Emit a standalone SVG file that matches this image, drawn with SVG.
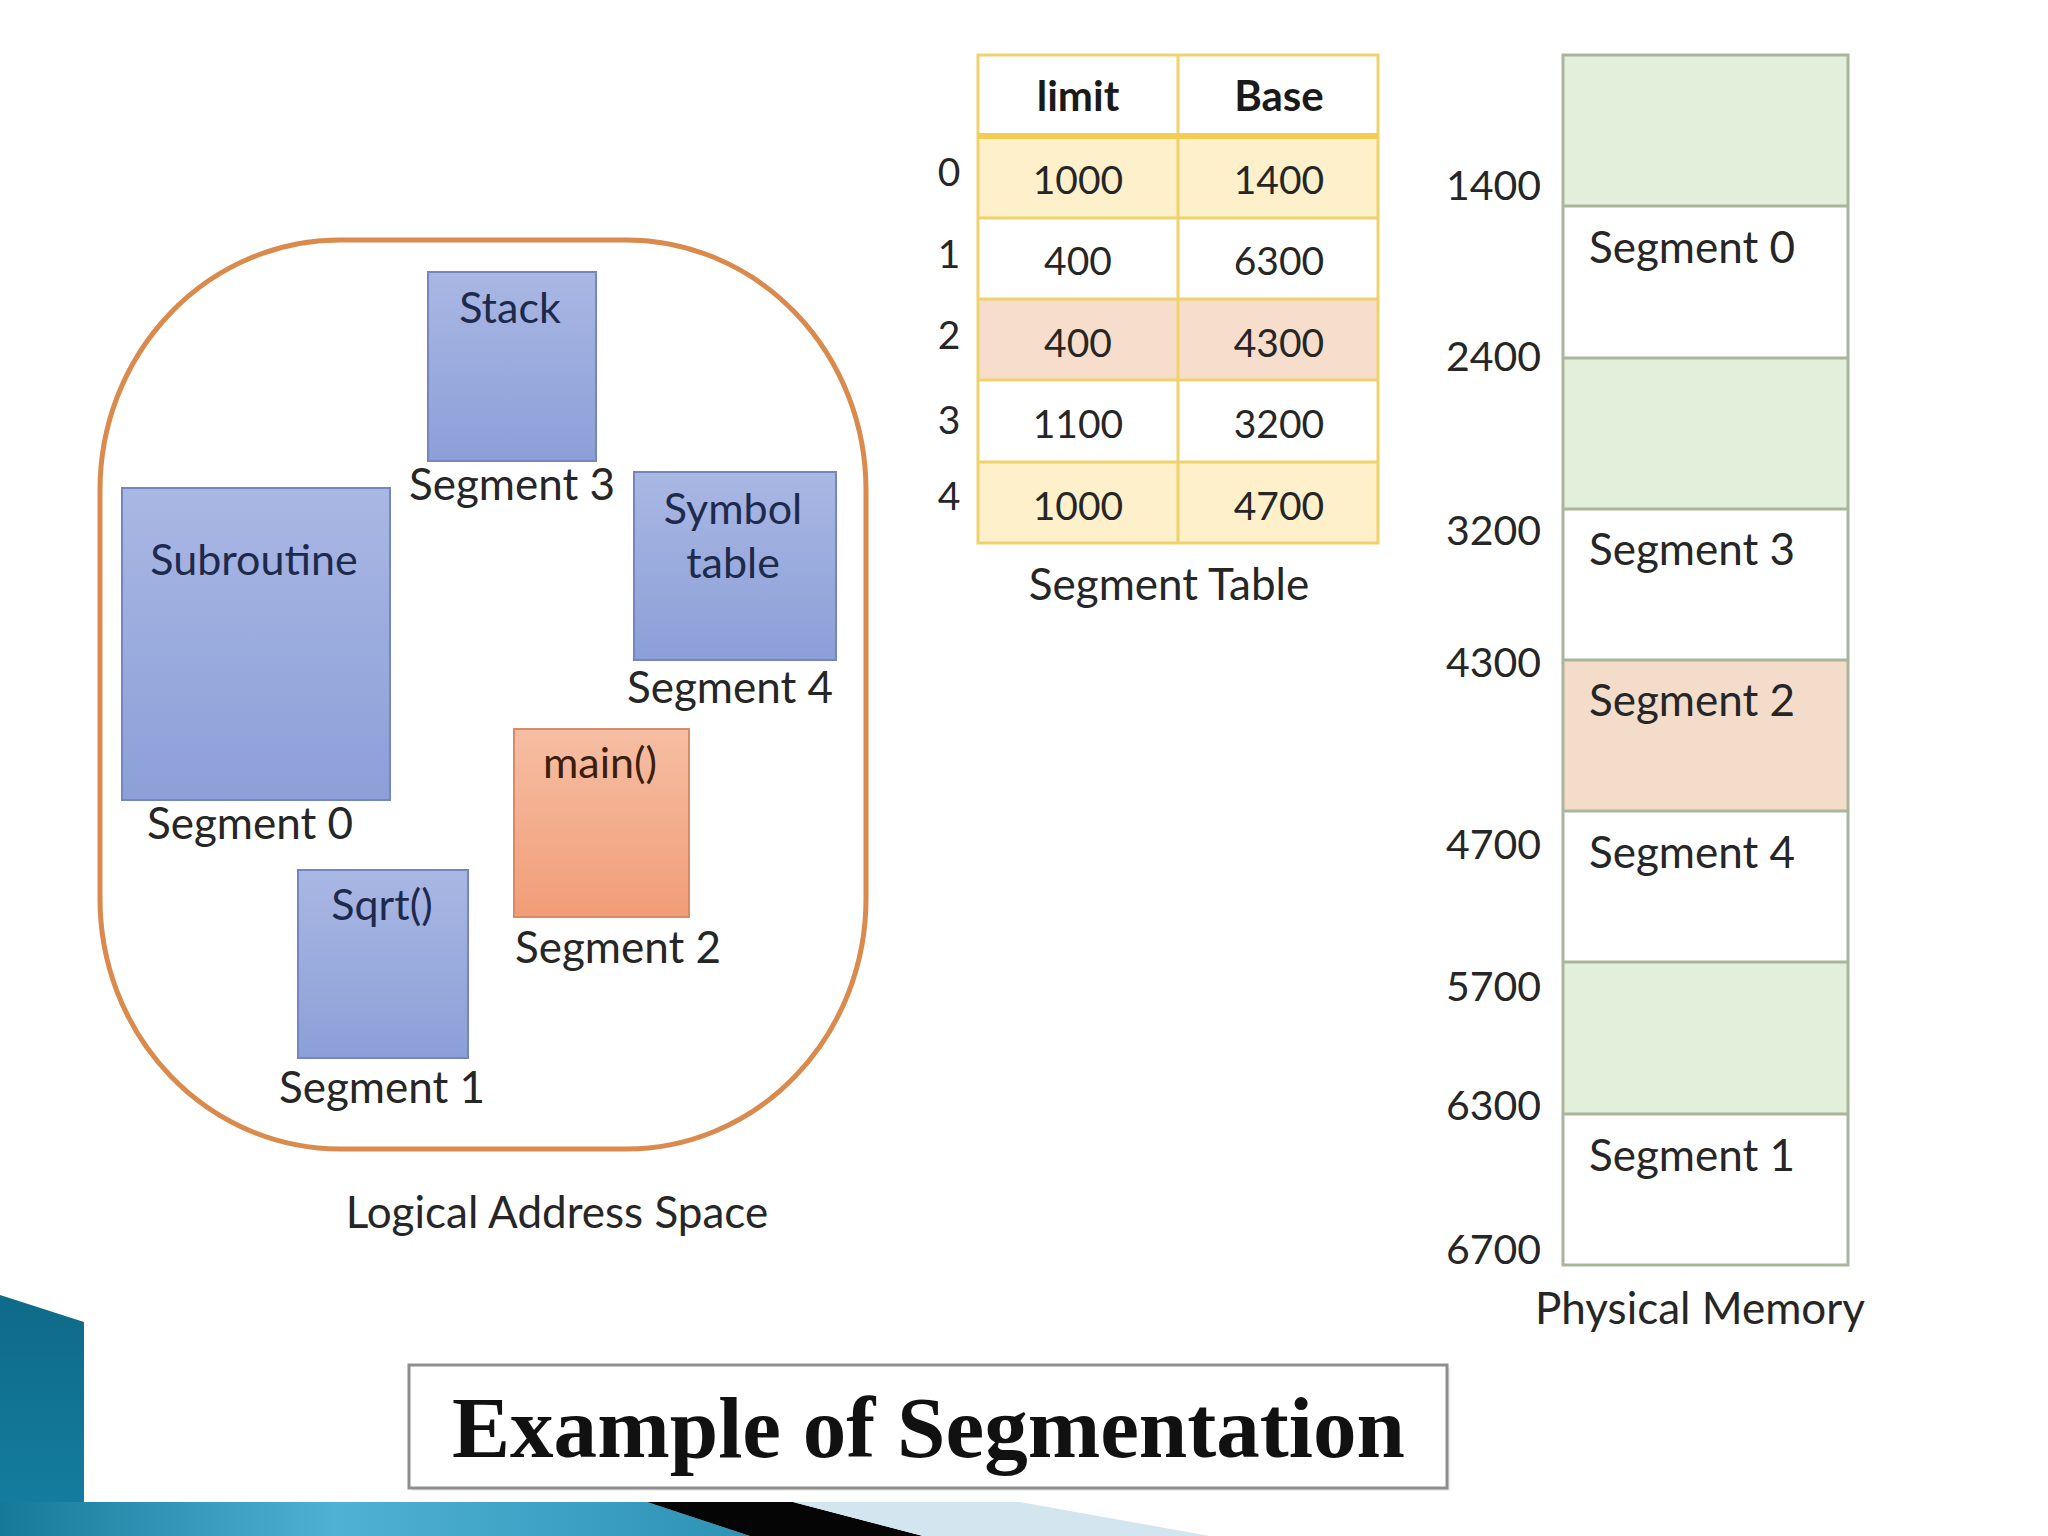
<svg xmlns="http://www.w3.org/2000/svg" width="2048" height="1536" viewBox="0 0 2048 1536">
<defs>
<linearGradient id="gBlue" x1="0" y1="0" x2="0" y2="1"><stop offset="0" stop-color="#A9B7E3"/><stop offset="1" stop-color="#8C9FD8"/></linearGradient>
<linearGradient id="gOrange" x1="0" y1="0" x2="0" y2="1"><stop offset="0" stop-color="#F6BEA3"/><stop offset="1" stop-color="#F19D77"/></linearGradient>
<linearGradient id="gBand" x1="0" y1="0" x2="1" y2="0"><stop offset="0" stop-color="#17799A"/><stop offset="0.45" stop-color="#4FB2D4"/><stop offset="1" stop-color="#2C92B6"/></linearGradient>
<linearGradient id="gBlock" x1="0" y1="0" x2="0" y2="1"><stop offset="0" stop-color="#0E6A88"/><stop offset="1" stop-color="#157FA2"/></linearGradient>
<style>
.lbl{font-family:Lato,"Open Sans",sans-serif;font-size:44px;fill:#262626;text-anchor:middle}
.inbox{font-family:Lato,"Open Sans",sans-serif;font-size:43px;fill:#1E2A4C;text-anchor:middle}
.num{font-family:Lato,"Open Sans",sans-serif;font-size:39px;fill:#262626;text-anchor:middle}
.hdr{font-family:Lato,"Open Sans",sans-serif;font-size:42px;font-weight:bold;fill:#1A1A1A;text-anchor:middle}
.addr{font-family:Lato,"Open Sans",sans-serif;font-size:41px;fill:#262626;text-anchor:end}
.mem{font-family:Lato,"Open Sans",sans-serif;font-size:44px;fill:#262626}
.seg{fill:url(#gBlue);stroke:#7486C0;stroke-width:2}
.tbl{stroke:#F0D26C;stroke-width:3}
.cell{stroke:#A9B69C;stroke-width:3}
</style>
</defs>
<rect width="2048" height="1536" fill="#FFFFFF"/>

<g id="logical-address-space">
<rect x="100" y="240" width="766" height="909" rx="240" ry="250" fill="none" stroke="#D98A4C" stroke-width="5"/>
<text class="lbl" x="557" y="1228">Logical Address Space</text>
</g>

<g id="stack">
<rect class="seg" x="428" y="272" width="168" height="189"/>
<text class="inbox" x="510" y="323">Stack</text>
<text class="lbl" x="512" y="500">Segment 3</text>
</g>

<g id="subroutine">
<rect class="seg" x="122" y="488" width="268" height="312"/>
<text class="inbox" x="254" y="575">Subroutine</text>
<text class="lbl" x="250" y="839">Segment 0</text>
</g>

<g id="symbol-table">
<rect class="seg" x="634" y="472" width="202" height="188"/>
<text class="inbox" x="733" y="524">Symbol</text>
<text class="inbox" x="733" y="578">table</text>
<text class="lbl" x="730" y="703">Segment 4</text>
</g>

<g id="main">
<rect x="514" y="729" width="175" height="188" fill="url(#gOrange)" stroke="#D98B66" stroke-width="2"/>
<text class="inbox" x="600" y="778" fill="#3B1E10" style="fill:#3B1E10">main()</text>
<text class="lbl" x="618" y="963">Segment 2</text>
</g>

<g id="sqrt">
<rect class="seg" x="298" y="870" width="170" height="188"/>
<text class="inbox" x="382" y="920">Sqrt()</text>
<text class="lbl" x="382" y="1103">Segment 1</text>
</g>

<g id="segment-table">
<rect x="978" y="55" width="400" height="81" fill="#FFFFFF"/>
<rect x="978" y="136" width="400" height="82" fill="#FDF0CA"/>
<rect x="978" y="218" width="400" height="81" fill="#FFFFFF"/>
<rect x="978" y="299" width="400" height="81" fill="#F7DDCB"/>
<rect x="978" y="380" width="400" height="82" fill="#FFFFFF"/>
<rect x="978" y="462" width="400" height="81" fill="#FDF0CA"/>
<g fill="none">
<rect class="tbl" x="978" y="55" width="400" height="488"/>
<line class="tbl" x1="1178" y1="55" x2="1178" y2="543"/>
<line x1="978" y1="136" x2="1378" y2="136" stroke="#F3CC52" stroke-width="6"/>
<line class="tbl" x1="978" y1="218" x2="1378" y2="218"/>
<line class="tbl" x1="978" y1="299" x2="1378" y2="299"/>
<line class="tbl" x1="978" y1="380" x2="1378" y2="380"/>
<line class="tbl" x1="978" y1="462" x2="1378" y2="462"/>
</g>
<text class="hdr" x="1078" y="111">limit</text>
<text class="hdr" x="1279" y="111">Base</text>
<text class="num" x="949" y="186">0</text>
<text class="num" x="949" y="268">1</text>
<text class="num" x="949" y="349">2</text>
<text class="num" x="949" y="434">3</text>
<text class="num" x="949" y="510">4</text>
<text class="num" x="1078" y="194">1000</text>
<text class="num" x="1279" y="194">1400</text>
<text class="num" x="1078" y="275">400</text>
<text class="num" x="1279" y="275">6300</text>
<text class="num" x="1078" y="357">400</text>
<text class="num" x="1279" y="357">4300</text>
<text class="num" x="1078" y="438">1100</text>
<text class="num" x="1279" y="438">3200</text>
<text class="num" x="1078" y="520">1000</text>
<text class="num" x="1279" y="520">4700</text>
<text class="lbl" x="1169" y="600">Segment Table</text>
</g>

<g id="physical-memory">
<rect x="1563" y="55" width="285" height="151" fill="#E2EFDA"/>
<rect x="1563" y="206" width="285" height="152" fill="#FFFFFF"/>
<rect x="1563" y="358" width="285" height="151" fill="#E2EFDA"/>
<rect x="1563" y="509" width="285" height="151" fill="#FFFFFF"/>
<rect x="1563" y="660" width="285" height="151" fill="#F4DCCB"/>
<rect x="1563" y="811" width="285" height="151" fill="#FFFFFF"/>
<rect x="1563" y="962" width="285" height="152" fill="#E2EFDA"/>
<rect x="1563" y="1114" width="285" height="151" fill="#FFFFFF"/>
<g fill="none">
<rect class="cell" x="1563" y="55" width="285" height="1210"/>
<line class="cell" x1="1563" y1="206" x2="1848" y2="206"/>
<line class="cell" x1="1563" y1="358" x2="1848" y2="358"/>
<line class="cell" x1="1563" y1="509" x2="1848" y2="509"/>
<line class="cell" x1="1563" y1="660" x2="1848" y2="660"/>
<line class="cell" x1="1563" y1="811" x2="1848" y2="811"/>
<line class="cell" x1="1563" y1="962" x2="1848" y2="962"/>
<line class="cell" x1="1563" y1="1114" x2="1848" y2="1114"/>
</g>
<text class="mem" x="1589" y="263">Segment 0</text>
<text class="mem" x="1589" y="565">Segment 3</text>
<text class="mem" x="1589" y="716">Segment 2</text>
<text class="mem" x="1589" y="868">Segment 4</text>
<text class="mem" x="1589" y="1171">Segment 1</text>
<text class="addr" x="1541" y="200">1400</text>
<text class="addr" x="1541" y="371">2400</text>
<text class="addr" x="1541" y="545">3200</text>
<text class="addr" x="1541" y="677">4300</text>
<text class="addr" x="1541" y="859">4700</text>
<text class="addr" x="1541" y="1001">5700</text>
<text class="addr" x="1541" y="1120">6300</text>
<text class="addr" x="1541" y="1264">6700</text>
<text class="lbl" x="1700" y="1324">Physical Memory</text>
</g>

<g id="title">
<rect x="412" y="1368" width="1038" height="123" fill="#D9D9D9" opacity="0.5"/>
<rect x="409" y="1365" width="1038" height="123" fill="#FFFFFF" stroke="#8E8E8E" stroke-width="3"/>
<text x="452" y="1457" font-family="'Liberation Serif',serif" font-weight="bold" font-size="86" fill="#111111" textLength="953" lengthAdjust="spacingAndGlyphs">Example of Segmentation</text>
</g>

<g id="decoration">
<polygon points="0,1295 84,1322 84,1536 0,1536" fill="url(#gBlock)"/>
<polygon points="0,1502 647,1502 750,1536 0,1536" fill="url(#gBand)"/>
<polygon points="647,1502 793,1502 923,1536 750,1536" fill="#050505"/>
<polygon points="793,1502 1020,1502 1210,1536 923,1536" fill="#D3E6EF"/>
</g>
</svg>
